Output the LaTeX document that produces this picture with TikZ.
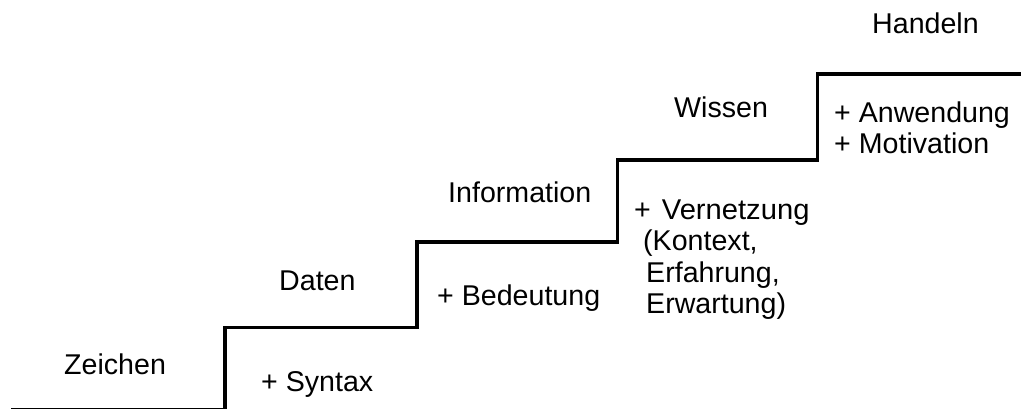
\documentclass[tikz,border=0pt]{standalone}
\usepackage{fontspec}
\setmainfont{Liberation Sans}
\begin{document}
\begin{tikzpicture}[x=1pt,y=-1pt,
  lbl/.style={anchor=base west, inner sep=0pt, font=\fontsize{28.6}{31}\selectfont},
  stair/.style={line width=3.5pt, line join=miter}]
\useasboundingbox (0,0) rectangle (1021,409);

% corners of the staircase
\coordinate (c0) at (11,410.2);
\coordinate (c1) at (225,410.2);
\coordinate (c2) at (225,327.5);
\coordinate (c3) at (417,327.5);
\coordinate (c4) at (417,242);
\coordinate (c5) at (617.5,242);
\coordinate (c6) at (617.5,160);
\coordinate (c7) at (817.5,160);
\coordinate (c8) at (817.5,74);
\coordinate (c9) at (1025,74);

\draw[stair] (c0) -- (c1) -- (c2) -- (c3) -- (c4) -- (c5) -- (c6) -- (c7) -- (c8) -- (c9);

% levels
\node[lbl] (zeichen) at (64,374) {Zeichen};
\node[lbl] (daten) at (279,290) {Daten};
\node[lbl] (information) at (448,203) {Information};
\node[lbl] (wissen) at (674,118) {Wissen};
\node[lbl] (handeln) at (872,34) {Handeln};

% what each step adds
\node[lbl] (syntax) at (261,391) {+ Syntax};
\node[lbl] (bedeutung) at (437,305) {+ Bedeutung};
\node[lbl] (vernetzung) at (634,219) {+\hspace{11pt}\scalebox{1.02}[1]{Vernetzung}};
\node[lbl] (kontext) at (643,251) {(Kontext,};
\node[lbl] (erfahrung) at (646,282) {Erfahrung,};
\node[lbl] (erwartung) at (646,313) {Erwartung)};
\node[lbl] (anwendung) at (834,123) {+ Anwendung};
\node[lbl] (motivation) at (834,153.5) {+ Motivation};
\end{tikzpicture}
\end{document}
